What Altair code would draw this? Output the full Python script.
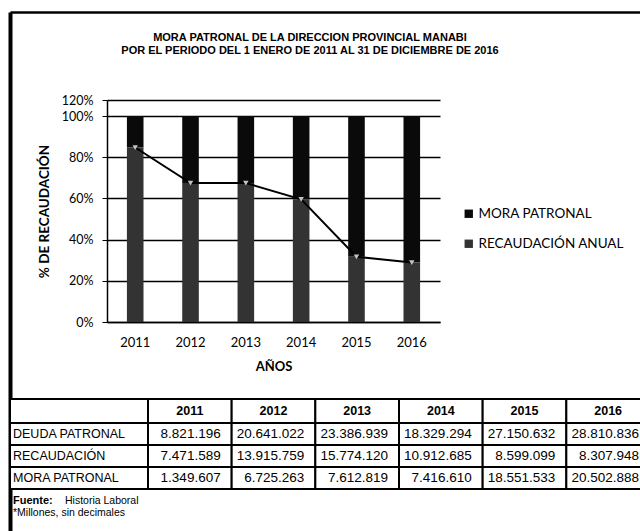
import altair as alt
import pandas as pd

# ---------------- data ----------------
years = ["2011", "2012", "2013", "2014", "2015", "2016"]
deuda = [8821196, 20641022, 23386939, 18329294, 27150632, 28810836]
recaudacion = [7471589, 13915759, 15774120, 10912685, 8599099, 8307948]
mora = [1349607, 6725263, 7612819, 7416610, 18551533, 20502888]

series_names = ["MORA PATRONAL", "RECAUDACIÓN ANUAL"]
series_colors = ["#0a0a0a", "#333333"]
row_labels = ["DEUDA PATRONAL", "RECAUDACIÓN", "MORA PATRONAL"]
y_ticks = [0, 0.2, 0.4, 0.6, 0.8, 1.0, 1.2]
title_lines = [
    "MORA PATRONAL DE LA DIRECCION PROVINCIAL MANABI",
    "POR EL PERIODO DEL 1 ENERO DE 2011 AL 31 DE DICIEMBRE DE 2016",
]
fuente_bold = "Fuente:"
fuente_text = "Historia Laboral"
nota_text = "*Millones, sin decimales"

W, H = 630, 519
SANS = "Liberation Sans"
CAL = "Lato"

# ---------------- frames ----------------
bars_df = pd.DataFrame({
    "year": years * 2,
    "series": [series_names[0]] * len(years) + [series_names[1]] * len(years),
    "value": mora + recaudacion,
    "ord": [1] * len(years) + [0] * len(years),
})
line_df = pd.DataFrame({
    "year": years,
    "share": [r / d for r, d in zip(recaudacion, deuda)],
})

def fmt(v):
    return f"{v:,}".replace(",", ".")

n_rows = len(row_labels) + 1
n_cols = len(years) + 1
cells = pd.DataFrame([
    {"r": r, "c": c, "r1": r + 1, "c1": c + 1}
    for r in range(n_rows) for c in range(n_cols)
])
header_df = pd.DataFrame({"label": years, "c": [i + 1.5 for i in range(len(years))], "r": [0.5] * len(years)})
rowlab_df = pd.DataFrame({"label": row_labels, "c": [0] * len(row_labels), "r": [i + 1.5 for i in range(len(row_labels))]})
vals = []
for ri, arr in enumerate([deuda, recaudacion, mora]):
    for ci, v in enumerate(arr):
        vals.append({"label": fmt(v), "c": ci + 2, "r": ri + 1.5})
values_df = pd.DataFrame(vals)
foot_df = pd.DataFrame({"label": [fuente_bold], "c": [0], "r": [n_rows]})
foot2_df = pd.DataFrame({"label": [fuente_text], "c": [0], "r": [n_rows]})
foot3_df = pd.DataFrame({"label": [nota_text], "c": [0], "r": [n_rows]})

# ---------------- chart part ----------------
xs = alt.Scale(domain=years, range=[97, 430], paddingInner=0.7, paddingOuter=0.36)
ys = alt.Scale(domain=[0, 1.0, 1.2], range=[310, 104, 88], nice=False)

x_axis = alt.Axis(orient="bottom", offset=-(H - 310), domainColor="black", domainWidth=1.5,
                  ticks=False, labelAngle=0, labelFont=CAL, labelFontSize=13, labelColor="black",
                  labelPadding=14, grid=False, titleFont=CAL, titleFontSize=13,
                  titleFontWeight="bold", titleColor="black", titlePadding=11)
y_axis = alt.Axis(orient="left", offset=-97, values=y_ticks, format=".0%", grid=True,
                  gridColor="black", gridWidth=1.5, domainColor="black", domainWidth=1.5,
                  tickColor="black", tickSize=5, labelFont=CAL, labelFontSize=12.5,
                  labelColor="black", labelPadding=9, labelOverlap=False,
                  titleFont=CAL, titleFontSize=13.5,
                  titleFontWeight="bold", titleColor="black", titlePadding=10)

bars = alt.Chart(bars_df).mark_bar().encode(
    x=alt.X("year:N", sort=years, scale=xs, axis=x_axis, title="AÑOS"),
    y=alt.Y("value:Q", stack="normalize", scale=ys, axis=y_axis, title="% DE RECAUDACIÓN"),
    color=alt.Color("series:N", scale=alt.Scale(domain=series_names, range=series_colors),
                    legend=alt.Legend(orient="none", legendX=452, legendY=195, title=None,
                                      symbolType="square", symbolSize=70, symbolStrokeWidth=0,
                                      labelFont=CAL, labelFontSize=13.5, labelColor="black",
                                      rowPadding=15, labelOffset=3)),
    order=alt.Order("ord:Q"),
)
line = alt.Chart(line_df).mark_line(color="black", strokeWidth=2).encode(
    x=alt.X("year:N", sort=years, scale=xs, title="AÑOS"),
    y=alt.Y("share:Q", scale=ys, title="% DE RECAUDACIÓN"),
)
pts = alt.Chart(line_df).mark_point(shape="triangle-down", filled=True, size=30,
                                    color="#c4c4c4", opacity=1).encode(
    x=alt.X("year:N", sort=years, scale=xs, title="AÑOS"),
    y=alt.Y("share:Q", scale=ys, title="% DE RECAUDACIÓN"),
)
chart_part = alt.layer(bars, line, pts)

# ---------------- table part ----------------
tx = alt.Scale(domain=[0, 1, n_cols], range=[0, 138, 640], nice=False, zero=False)
ty = alt.Scale(domain=[-1, 0, 1, n_rows, n_rows + 1], range=[0, 387, 411, 477, 519],
               nice=False, zero=False)

tx_axis = alt.Axis(orient="top", domain=True, domainColor="black", domainWidth=2.5,
                   labels=False, ticks=False, grid=False, title=None)
ty_axis = alt.Axis(orient="left", domain=True, domainColor="black", domainWidth=4,
                   labels=False, ticks=False, grid=False, title=None)

rects = alt.Chart(cells).mark_rect(fill="white", stroke="black", strokeWidth=2).encode(
    x=alt.X("c:Q", scale=tx, axis=tx_axis),
    x2="c1:Q",
    y=alt.Y("r:Q", scale=ty, axis=ty_axis),
    y2="r1:Q",
)
hdr = alt.Chart(header_df).mark_text(font=SANS, fontSize=12.5, fontWeight="bold",
                                     color="black", align="center", baseline="middle").encode(
    x=alt.X("c:Q", scale=tx), y=alt.Y("r:Q", scale=ty), text="label:N")
rl = alt.Chart(rowlab_df).mark_text(font=SANS, fontSize=12.5, color="black", align="left",
                                    baseline="middle", dx=3).encode(
    x=alt.X("c:Q", scale=tx), y=alt.Y("r:Q", scale=ty), text="label:N")
vl = alt.Chart(values_df).mark_text(font=SANS, fontSize=13.5, color="black", align="right",
                                    baseline="middle", dx=-11).encode(
    x=alt.X("c:Q", scale=tx), y=alt.Y("r:Q", scale=ty), text="label:N")
f1 = alt.Chart(foot_df).mark_text(font=SANS, fontSize=11, fontWeight="bold", color="black",
                                  align="left", baseline="middle", dx=3, dy=12).encode(
    x=alt.X("c:Q", scale=tx), y=alt.Y("r:Q", scale=ty), text="label:N")
f2 = alt.Chart(foot2_df).mark_text(font=SANS, fontSize=10.5, color="black",
                                   align="left", baseline="middle", dx=55, dy=12).encode(
    x=alt.X("c:Q", scale=tx), y=alt.Y("r:Q", scale=ty), text="label:N")
f3 = alt.Chart(foot3_df).mark_text(font=SANS, fontSize=10.5, color="black",
                                   align="left", baseline="middle", dx=3, dy=24).encode(
    x=alt.X("c:Q", scale=tx), y=alt.Y("r:Q", scale=ty), text="label:N")
table_part = alt.layer(rects, hdr, rl, vl, f1, f2, f3)

chart = alt.layer(chart_part, table_part).resolve_scale(
    x="independent", y="independent"
).resolve_axis(x="independent", y="independent").properties(
    width=W, height=H,
    autosize=alt.AutoSizeParams(type="none"),
    padding={"left": 10, "top": 12, "right": 0, "bottom": 0},
    title=alt.TitleParams(text=title_lines, font=SANS, fontSize=11, fontWeight="bold",
                          color="black", anchor="middle", frame="group", baseline="top",
                          offset=0, dx=-15, dy=44, lineHeight=13),
).configure_view(stroke=None).configure(background="white")

chart.save("out.html", embed_options={"renderer": "svg", "actions": False})
